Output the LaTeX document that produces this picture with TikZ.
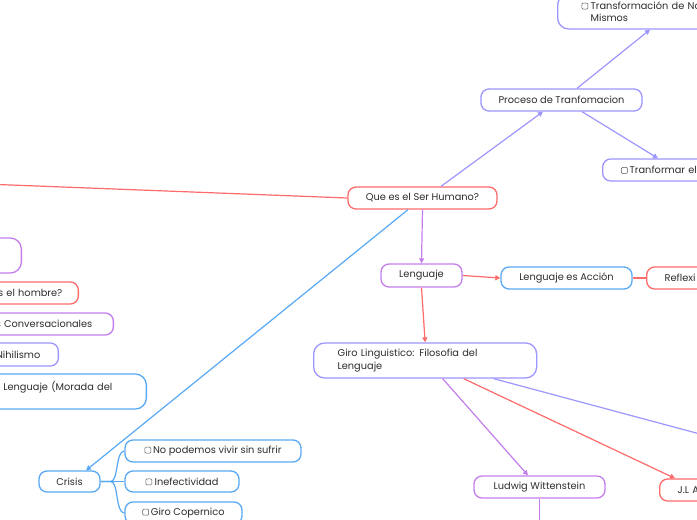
\documentclass[tikz,border=0pt]{standalone}
\usepackage{fontspec}
\setmainfont{Poppins}
\usetikzlibrary{arrows.meta}
\definecolor{cred}{RGB}{255,107,107}
\definecolor{clav}{RGB}{158,150,255}
\definecolor{cvio}{RGB}{196,126,236}
\definecolor{cblu}{RGB}{88,169,245}
\definecolor{ctxt}{RGB}{45,45,45}
\newcommand\chk{\tikz[baseline=-0.3pt]\draw[line width=0.5pt,rounded corners=1.1pt,ctxt!80] (0,0) rectangle (6pt,6pt);}
\begin{document}
\begin{tikzpicture}[x=1pt,y=-1pt,
  font=\fontsize{9.8}{12}\selectfont,
  box/.style={draw=#1, rounded corners=8pt, line width=1.3pt, inner sep=0pt, text=ctxt, fill=white},
  tall/.style={rounded corners=11pt, minimum height=35pt},
  con/.style={draw=#1, line width=1.2pt},
  arr/.style={-{Triangle[length=5pt,width=5pt]}}]
\useasboundingbox (0,0) rectangle (697,520);
\fill[white] (0,0) rectangle (697,520);
\clip (0,0) rectangle (697,520);

% centre boxes
\node[box=clav, minimum width=161pt, minimum height=22pt] (proc) at (561.5,100) {Proceso de Tranfomacion};
\node[box=cred, minimum width=149pt, minimum height=22pt] (que) at (422.5,198) {Que es el Ser Humano?};
\node[box=cvio, minimum width=81pt, minimum height=23pt] (leng) at (421.5,275.5) {Lenguaje};
\node[box=cblu, minimum width=131pt, minimum height=22pt] (lea) at (566.5,278) {Lenguaje es Acción};
\node[box=clav, tall, anchor=west, inner xsep=24pt, text width=175pt, align=left, font=\fontsize{9.8}{12.8}\selectfont] (giro) at (313,360.5) {Giro Linguistico: Filosofia del\\Lenguaje};
\node[box=cvio, minimum width=131pt, minimum height=22pt] (lud) at (539.5,487) {Ludwig Wittenstein};
\node[box=cblu, minimum width=61pt, minimum height=21pt] (crisis) at (69.5,481.5) {Crisis};
\node[box=cblu, minimum width=176pt, minimum height=22pt] (c1) at (213,451) {\chk\hspace{2pt}No podemos vivir sin sufrir};
\node[box=cblu, minimum width=114pt, minimum height=21pt] (c2) at (182,481.5) {\chk\ Inefectividad};
\node[box=cblu, minimum width=117pt, minimum height=22pt] (c3) at (183.5,513) {\chk\hspace{2pt}Giro Copernico};

% boxes cut by the right edge
\node[box=clav, tall, anchor=west, inner xsep=33pt, text width=150pt, align=left] (trans) at (557,11.5) {\llap{\chk\hspace{2.5pt}}Transformación de No\\Mismos};
\node[box=clav, minimum height=22pt, anchor=west, inner xsep=18.5pt, text width=150pt, align=left] (tranf) at (602,170) {\chk\hspace{2pt}Tranformar el};
\node[box=cred, minimum height=22pt, anchor=west, inner xsep=18pt, text width=100pt, align=left] (refl) at (646,278) {Reflexi};
\node[box=cred, minimum height=22pt, anchor=west, inner xsep=18pt, text width=100pt, align=left] (jl) at (659,490) {J.L A};

% boxes cut by the left edge
\node[box=cvio, tall, anchor=east, minimum width=160pt] (l1) at (22,255.5) {};
\node[box=cred, minimum height=22pt, anchor=east, inner xsep=16pt, text width=160pt, align=right] (l2) at (79,293) {s el hombre?};
\node[box=cvio, minimum height=22pt, anchor=east, inner xsep=21pt, text width=160pt, align=right] (l3) at (114,324) {s Conversacionales};
\node[box=clav, minimum height=23pt, anchor=east, inner xsep=18pt, text width=160pt, align=right] (l4) at (59,354.5) {Nihilismo};
\node[box=cblu, tall, anchor=east, inner xsep=34pt, text width=160pt, align=right] (l5) at (147,391.5) {: Lenguaje (Morada del\\\mbox{}};

% free ends
\coordinate (offl) at (-2,184.5);
\coordinate (offr) at (700,434);
\coordinate (offb) at (539.5,525);

% connectors
\draw[con=cred] (que.west) -- (offl);
\draw[con=clav, arr] ([xshift=18.5pt]que.north) -- ([xshift=-18.5pt]proc.south);
\draw[con=clav, arr] ([xshift=15.5pt]proc.north) -- ([xshift=93pt]trans.south west);
\draw[con=clav, arr] ([xshift=20.5pt]proc.south) -- ([xshift=56pt]tranf.north west);
\draw[con=cblu, arr] ([xshift=-14.5pt]que.south) -- ([xshift=16.5pt]crisis.north);
\draw[con=cvio, arr] (que.south) -- (leng.north);
\draw[con=cred, arr] (leng.east) -- (lea.west);
\draw[con=cred] (lea.east) -- (refl.west);
\draw[con=cred, arr] (leng.south) -- (giro.north);
\draw[con=cvio, arr] ([xshift=17.5pt]giro.south) -- ([xshift=-11.5pt]lud.north);
\draw[con=cred, arr] ([xshift=38.5pt]giro.south) -- ([xshift=16pt]jl.north west);
\draw[con=clav] ([xshift=68.5pt]giro.south) -- (offr);
\draw[con=cvio] (lud.south) -- (offb);
\draw[con=cblu] (crisis.east) -- ++(10,0) .. controls +(8,0) and +(-9,0) .. (c1.west);
\draw[con=cblu] (crisis.east) -- (c2.west);
\draw[con=cblu] (crisis.east) -- ++(10,0) .. controls +(8,0) and +(-9,0) .. (c3.west);
\end{tikzpicture}
\end{document}
